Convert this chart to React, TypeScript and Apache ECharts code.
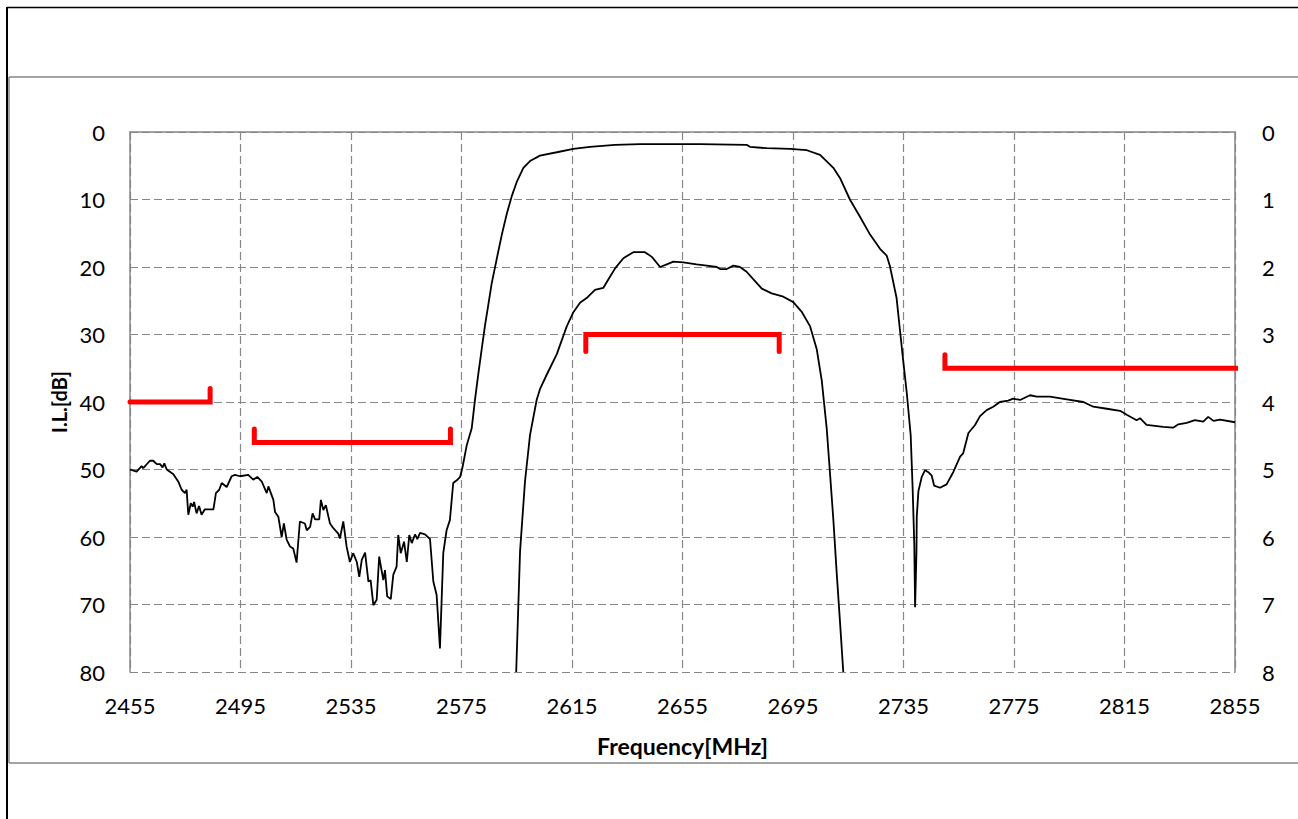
import React, { useEffect, useRef } from "react";
import * as echarts from "echarts";

// Frequency axis ticks (MHz)
const freqMin = 2455;
const freqMax = 2855;
const freqStep = 40;

// Wide-band response, left axis I.L. [dB]
const wideFreq = [
  2455.0, 2457.4, 2459.2, 2459.8, 2462.2, 2463.4, 2464.7, 2465.9, 2466.8, 2467.4, 2468.3, 2470.7,
  2472.5, 2473.7, 2474.9, 2475.5, 2476.1, 2477.0, 2477.7, 2478.2, 2479.1, 2480.0, 2480.9, 2482.1,
  2485.2, 2486.1, 2487.3, 2488.2, 2490.0, 2491.8, 2493.0, 2494.8, 2497.8, 2499.6, 2501.1, 2502.7,
  2504.5, 2505.1, 2506.9, 2507.5, 2508.7, 2509.9, 2510.7, 2511.7, 2512.9, 2514.1, 2515.3, 2516.5,
  2518.3, 2519.0, 2520.2, 2521.1, 2522.0, 2523.5, 2524.1, 2525.0, 2525.9, 2527.4, 2528.6, 2530.4,
  2531.0, 2532.2, 2533.4, 2534.6, 2535.8, 2537.1, 2538.0, 2538.9, 2540.1, 2541.3, 2542.1, 2543.1,
  2544.3, 2545.2, 2546.7, 2547.3, 2548.1, 2549.4, 2550.3, 2551.5, 2552.1, 2553.0, 2554.2, 2555.2,
  2556.1, 2557.0, 2558.2, 2559.0, 2560.0, 2561.8, 2563.6, 2564.8, 2566.0, 2567.2, 2568.4, 2569.6,
  2570.8, 2572.0, 2573.3, 2574.5, 2575.4, 2576.9, 2578.7, 2579.9, 2581.1, 2582.3, 2583.5, 2584.7,
  2585.9, 2587.7, 2589.6, 2591.4, 2593.2, 2595.0, 2597.4, 2599.8, 2603.4, 2609.5, 2615.5, 2621.5,
  2630.6, 2639.6, 2661.3, 2678.2, 2679.4, 2685.5, 2693.9, 2700.0, 2704.8, 2709.6, 2712.0, 2715.6,
  2719.3, 2722.9, 2726.5, 2728.9, 2730.1, 2732.5, 2733.7, 2734.9, 2736.2, 2737.6, 2738.3, 2738.9,
  2739.2, 2739.7, 2739.8, 2740.4, 2741.6, 2742.8, 2744.0, 2745.2, 2746.1, 2748.2, 2750.6, 2753.0,
  2755.5, 2756.6, 2758.5, 2760.9, 2762.7, 2765.1, 2767.5, 2769.9, 2772.9, 2774.7, 2777.2, 2780.8,
  2783.2, 2788.0, 2794.1, 2800.1, 2803.7, 2808.6, 2813.4, 2815.8, 2819.4, 2820.6, 2823.0, 2829.0,
  2832.6, 2834.5, 2837.5, 2840.5, 2843.5, 2845.3, 2847.2, 2849.6, 2855.0,
];
const wideLoss = [
  50.0, 50.3, 49.5, 49.8, 48.7, 48.7, 49.2, 49.2, 49.7, 49.1, 50.0, 50.7,
  51.8, 53.0, 53.5, 53.0, 56.7, 55.0, 55.5, 54.8, 56.5, 55.4, 56.7, 55.9,
  55.9, 53.5, 53.0, 52.0, 52.6, 51.0, 50.8, 51.0, 50.8, 51.5, 51.1, 51.8,
  53.5, 52.5, 54.5, 56.3, 57.0, 60.0, 58.0, 60.4, 61.4, 61.7, 63.8, 57.7,
  58.0, 59.0, 58.5, 56.5, 57.4, 57.4, 54.5, 56.0, 55.3, 58.0, 58.7, 59.5,
  60.2, 57.7, 61.4, 63.7, 62.4, 63.7, 65.9, 63.4, 62.3, 66.6, 66.4, 70.1,
  69.3, 62.9, 66.4, 64.9, 68.8, 69.2, 65.6, 64.4, 59.7, 62.4, 60.7, 63.7,
  59.7, 60.9, 59.6, 60.3, 59.4, 59.6, 60.3, 66.6, 68.6, 76.5, 62.4, 59.0,
  57.5, 52.0, 51.6, 51.1, 49.6, 46.4, 43.9, 39.6, 35.8, 32.2, 28.7, 25.6,
  22.5, 18.9, 15.2, 12.1, 9.5, 7.4, 5.3, 4.3, 3.5, 3.0, 2.5, 2.2,
  1.9, 1.8, 1.8, 1.9, 2.2, 2.4, 2.5, 2.7, 3.4, 5.3, 6.8, 10.0,
  12.6, 15.2, 17.3, 18.3, 19.9, 24.6, 29.3, 33.9, 38.7, 44.9, 52.7, 61.0,
  70.4, 62.1, 57.0, 53.2, 51.1, 50.1, 50.4, 50.9, 52.4, 52.7, 52.2, 50.4,
  48.1, 47.6, 44.6, 43.4, 42.1, 41.2, 40.7, 40.0, 39.8, 39.5, 39.7, 39.0,
  39.2, 39.2, 39.6, 40.0, 40.7, 41.0, 41.3, 41.9, 42.7, 42.4, 43.4, 43.7,
  43.8, 43.3, 43.1, 42.7, 42.9, 42.2, 42.8, 42.6, 43.0,
];

// Passband detail, right axis I.L. [dB]
const passFreq = [
  2594.8, 2596.2, 2598.0, 2599.8, 2602.2, 2603.4, 2605.8, 2609.5, 2613.1, 2615.5, 2617.9, 2620.3,
  2623.3, 2626.3, 2628.8, 2630.6, 2633.6, 2637.2, 2641.4, 2643.9, 2646.9, 2649.3, 2651.7, 2655.3,
  2660.1, 2663.8, 2667.4, 2668.6, 2671.0, 2673.4, 2675.8, 2678.2, 2680.6, 2683.7, 2687.3, 2691.5,
  2695.1, 2698.1, 2701.2, 2703.6, 2705.4, 2707.2, 2708.4, 2709.6, 2710.8, 2712.0, 2713.2,
];
const passLoss = [
  8.0, 6.21, 5.17, 4.49, 3.97, 3.81, 3.6, 3.29, 2.88, 2.67, 2.53, 2.46,
  2.34, 2.31, 2.14, 2.02, 1.87, 1.78, 1.78, 1.85, 2.0, 1.96, 1.92, 1.93,
  1.96, 1.98, 2.0, 2.03, 2.03, 1.98, 2.0, 2.07, 2.18, 2.32, 2.39, 2.44,
  2.52, 2.66, 2.88, 3.22, 3.68, 4.39, 5.06, 5.74, 6.52, 7.25, 8.0,
];

// Specification masks (left axis dB)
const mask1Freq = [2455, 2484, 2484];
const mask1Loss = [40, 40, 38];
const mask2Freq = [2500, 2500, 2571, 2571];
const mask2Loss = [44, 46, 46, 44];
const mask3Freq = [2620, 2620, 2690, 2690];
const mask3Loss = [32.5, 30, 30, 32.5];
const mask4Freq = [2750, 2750, 2856];
const mask4Loss = [33, 35, 35];

const zip = (xs: number[], ys: number[]) => xs.map((x, i) => [x, ys[i]]);

const FONT = "Lato";
const GRAY = "#878787";

export default function App() {
  const ref = useRef<HTMLDivElement>(null);

  useEffect(() => {
    if (!ref.current) return;
    const chart = echarts.init(ref.current, null, { renderer: "svg" });

    const maskSeries = (data: number[][], clip: boolean) => ({
      type: "line",
      yAxisIndex: 0,
      data,
      showSymbol: false,
      symbol: "none",
      clip,
      lineStyle: { color: "#ff0000", width: 5, cap: "round", join: "miter" },
      z: 3,
    });

    const plain = (v: number) => String(v);

    chart.setOption({
      animation: false,
      backgroundColor: "#ffffff",
      textStyle: { fontFamily: FONT },
      grid: { left: 130, right: 63, top: 132, bottom: 147, containLabel: false },
      xAxis: {
        type: "value",
        min: freqMin,
        max: freqMax,
        interval: freqStep,
        name: "Frequency[MHz]",
        nameLocation: "middle",
        nameGap: 62,
        nameTextStyle: { fontFamily: FONT, fontSize: 23, fontWeight: "bold", color: "#000" },
        axisLine: { show: true, lineStyle: { color: GRAY, width: 1.5 } },
        axisTick: { show: false },
        axisLabel: { fontFamily: FONT, fontSize: 22, color: "#000", margin: 22, formatter: plain },
        splitLine: { show: true, lineStyle: { color: GRAY, width: 1.2, type: [8, 4] } },
      },
      yAxis: [
        {
          type: "value",
          min: 0,
          max: 80,
          interval: 10,
          inverse: true,
          position: "left",
          name: "I.L.[dB]",
          nameLocation: "middle",
          nameGap: 58,
          nameRotate: 90,
          nameTextStyle: { fontFamily: FONT, fontSize: 20, fontWeight: "bold", color: "#000" },
          axisLine: { show: true, onZero: false, lineStyle: { color: GRAY, width: 1.5 } },
          axisTick: { show: false },
          axisLabel: { fontFamily: FONT, fontSize: 22, color: "#000", margin: 25, formatter: plain },
          splitLine: { show: true, lineStyle: { color: GRAY, width: 1.2, type: [8, 4] } },
        },
        {
          type: "value",
          min: 0,
          max: 8,
          interval: 1,
          inverse: true,
          position: "right",
          axisLine: { show: true, onZero: false, lineStyle: { color: GRAY, width: 1.5 } },
          axisTick: { show: false },
          axisLabel: { fontFamily: FONT, fontSize: 22, color: "#000", margin: 27, formatter: plain },
          splitLine: { show: false },
        },
      ],
      series: [
        {
          type: "line",
          yAxisIndex: 0,
          data: zip(wideFreq, wideLoss),
          showSymbol: false,
          symbol: "none",
          lineStyle: { color: "#000", width: 1.8 },
          z: 4,
        },
        {
          type: "line",
          yAxisIndex: 1,
          data: zip(passFreq, passLoss),
          showSymbol: false,
          symbol: "none",
          lineStyle: { color: "#000", width: 1.8 },
          z: 4,
        },
        maskSeries(zip(mask1Freq, mask1Loss), true),
        maskSeries(zip(mask2Freq, mask2Loss), false),
        maskSeries(zip(mask3Freq, mask3Loss), false),
        maskSeries(zip(mask4Freq, mask4Loss), false),
      ],
      graphic: [
        { type: "line", shape: { x1: 7, y1: 7.5, x2: 1298, y2: 7.5 }, style: { stroke: "#000", lineWidth: 1.5 }, silent: true },
        { type: "line", shape: { x1: 7, y1: 7, x2: 7, y2: 819 }, style: { stroke: "#000", lineWidth: 2 }, silent: true },
        { type: "line", shape: { x1: 9, y1: 77, x2: 1298, y2: 77 }, style: { stroke: GRAY, lineWidth: 1.5 }, silent: true },
        { type: "line", shape: { x1: 9, y1: 77, x2: 9, y2: 763 }, style: { stroke: GRAY, lineWidth: 1.5 }, silent: true },
        { type: "line", shape: { x1: 9, y1: 763, x2: 1298, y2: 763 }, style: { stroke: GRAY, lineWidth: 1.5 }, silent: true },
      ],
    });

    return () => chart.dispose();
  }, []);

  return (
    <div
      ref={ref}
      style={{ position: "fixed", left: 0, top: 0, width: 1298, height: 819, background: "#fff" }}
    />
  );
}
